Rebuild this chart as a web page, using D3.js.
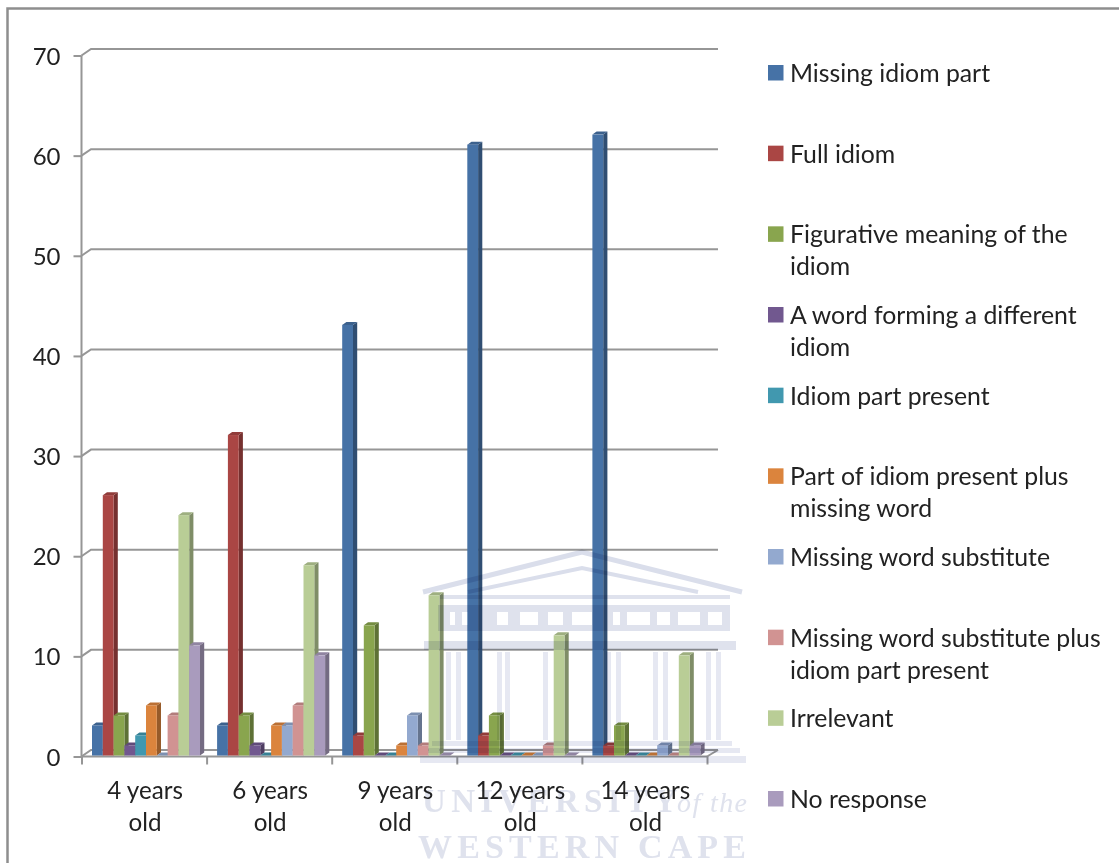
<!DOCTYPE html>
<html><head><meta charset="utf-8">
<script src="https://cdn.jsdelivr.net/npm/d3@7"></script>
<style>html,body{margin:0;padding:0;background:#fff;overflow:hidden}svg{display:block;filter:blur(0.45px)}</style>
</head><body><svg id="c" width="1119" height="863"></svg>
<script>
const categories=[["4 years","old"],["6 years","old"],["9 years","old"],["12 years","old"],["14 years","old"]];
const missingIdiomPart=[3,3,43,61,62];
const fullIdiom=[26,32,2,2,1];
const figurativeMeaning=[4,4,13,4,3];
const differentIdiomWord=[1,1,0,0,0];
const idiomPartPresent=[2,0,0,0,0];
const partPlusMissing=[5,3,1,0,0];
const missingWordSubstitute=[0,3,4,0,1];
const substitutePlusPart=[4,5,1,1,0];
const irrelevant=[24,19,16,12,10];
const noResponse=[11,10,0,0,1];
const seriesValues=[missingIdiomPart,fullIdiom,figurativeMeaning,differentIdiomWord,idiomPartPresent,partPlusMissing,missingWordSubstitute,substitutePlusPart,irrelevant,noResponse];
const legendLabels=[["Missing idiom part"],["Full idiom"],["Figurative meaning of the","idiom"],["A word forming a different","idiom"],["Idiom part present"],["Part of idiom present plus","missing word"],["Missing word substitute"],["Missing word substitute plus","idiom part present"],["Irrelevant"],["No response"]];
const colors=["#4672a6","#aa4644","#89a54e","#71588f","#4198af","#db843d","#93a9cf","#d19392","#b9cd96","#a99bbd"];
const yTicks=[0,10,20,30,40,50,60,70];

const svg=d3.select("#c");
const font="Lato, Carlito, 'Open Sans', sans-serif";
const axisColor="#969696";
const dx=9.5,dy=-6.5;
const y=d3.scaleLinear().domain([0,70]).range([756.5,55.5]);
const x=d3.scaleBand().domain(d3.range(categories.length)).range([81.5,707]);
const slot=d3.scaleBand().domain(d3.range(10)).range([10.5,118.5]);

svg.append("path").attr("d","M7.5,863V8.5H1119").attr("fill","none").attr("stroke","#8e8e8e").attr("stroke-width",2.5);

const grid=svg.append("g").attr("fill","none").attr("stroke",axisColor).attr("stroke-width",2);
yTicks.forEach(t=>{
  grid.append("path").attr("d",`M${81.5},${y(t)}L${81.5+dx},${y(t)+dy}H718`);
});
grid.append("path").attr("d",`M718,${y(0)+dy}L707,${y(0)}`);

const ya=svg.append("g").attr("transform","translate(81.5,0)").call(d3.axisLeft(y).tickValues(yTicks).tickSize(8).tickPadding(13).tickFormat(d3.format("d")));
ya.select(".domain").attr("stroke",axisColor).attr("stroke-width",2).attr("d",`M0,${y(70)}V${y(0)}`);
ya.selectAll(".tick line").attr("stroke",axisColor).attr("stroke-width",2);
ya.selectAll(".tick text").attr("font-family",font).attr("font-size",24).attr("fill","#222").attr("dy","0.36em");

const xa=svg.append("g").attr("transform",`translate(0,${y(0)})`).call(d3.axisBottom(d3.scaleLinear().domain([0,5]).range([81.5,707])).tickValues(d3.range(6)).tickSize(8).tickFormat(""));
xa.select(".domain").attr("stroke",axisColor).attr("stroke-width",2).attr("d","M81.5,0H707");
xa.selectAll(".tick line").attr("stroke",axisColor).attr("stroke-width",2);
const xl=svg.append("g").attr("font-family",font).attr("font-size",24.2).attr("fill","#222").attr("text-anchor","middle");
categories.forEach((c,i)=>c.forEach((l,j)=>xl.append("text").attr("x",x(i)+x.bandwidth()/2+1).attr("y",799+j*32).text(l)));

const bd=4.2,bh=-3,base=-1;
const bars=svg.append("g");
seriesValues.forEach((vals,s)=>{
  vals.forEach((v,i)=>{
    const l=x(i)+slot(s),w=slot.bandwidth(),t=y(v)+base,b=y(0)+base;
    const g=bars.append("g");
    const c=d3.color(colors[s]);
    g.append("path").attr("d",`M${l+w},${t}l${bd},${bh}V${b+bh}l${-bd},${-bh}Z`).attr("fill",c.darker(1.05));
    g.append("path").attr("d",`M${l},${t}l${bd},${bh}h${w}l${-bd},${-bh}Z`).attr("fill",c.darker(0.45));
    g.append("rect").attr("x",l).attr("y",t).attr("width",w).attr("height",b-t).attr("fill",c);
  });
});

const lg=svg.append("g").attr("font-family",font).attr("font-size",24.8).attr("fill","#222");
const legendY=d3.scalePoint().domain(d3.range(10)).range([73,799]);
legendLabels.forEach((ls,i)=>{
  const yy=legendY(i);
  lg.append("rect").attr("x",768).attr("y",yy-8).attr("width",15.5).attr("height",15.5).attr("fill",colors[i]);
  ls.forEach((l,j)=>lg.append("text").attr("x",790).attr("y",yy+9+j*32).text(l));
});

// watermark
const wmBand="#dadeeb",wmCol="#e6e8f2",wmText="#dfe2ed";
const wm=svg.append("g").style("mix-blend-mode","multiply").attr("fill",wmBand);
const wmRects=[[440,595,290,4],[424,641,312,9]];
wmRects.forEach(r=>wm.append("rect").attr("x",r[0]).attr("y",r[1]).attr("width",r[2]).attr("height",r[3]));
const friezeHoles=[[450,5],[462,6],[497,11],[520,18],[548,15],[572,20],[613,7],[627,23],[657,13],[678,22],[708,14]];
wm.append("path").attr("fill-rule","evenodd").attr("d","M438,605H730V631H438Z"+friezeHoles.map(h=>`M${h[0]},612h${h[1]}v13h${-h[1]}Z`).join(""));
const colG=wm.append("g").attr("fill",wmCol);
[446,456,497,505,543,606,616,653,663,706,716].forEach(cx=>colG.append("rect").attr("x",cx).attr("y",652).attr("width",5).attr("height",88));
[[432,741,300,5],[428,748,312,5],[420,756,326,7]].forEach(r=>colG.append("rect").attr("x",r[0]).attr("y",r[1]).attr("width",r[2]).attr("height",r[3]));
wm.append("path").attr("fill","none").attr("stroke",wmBand).attr("stroke-width",5).attr("d","M423,592L582,552L742,592");
wm.append("path").attr("fill","none").attr("stroke",wmBand).attr("stroke-width",4).attr("d","M468,592L582,568L698,592");
const serif="'Liberation Serif',serif";
wm.attr("fill",wmText);
wm.append("text").attr("x",422).attr("y",812).attr("font-family",serif).attr("font-weight","bold").attr("font-size",33).attr("textLength",255).attr("lengthAdjust","spacing").text("UNIVERSITY");
wm.append("text").attr("x",677).attr("y",812).attr("font-family",serif).attr("font-style","italic").attr("font-size",28).attr("textLength",70).text("of the");
wm.append("text").attr("x",418).attr("y",858).attr("font-family",serif).attr("font-weight","bold").attr("font-size",34).attr("textLength",328).attr("lengthAdjust","spacing").text("WESTERN CAPE");
</script></body></html>
